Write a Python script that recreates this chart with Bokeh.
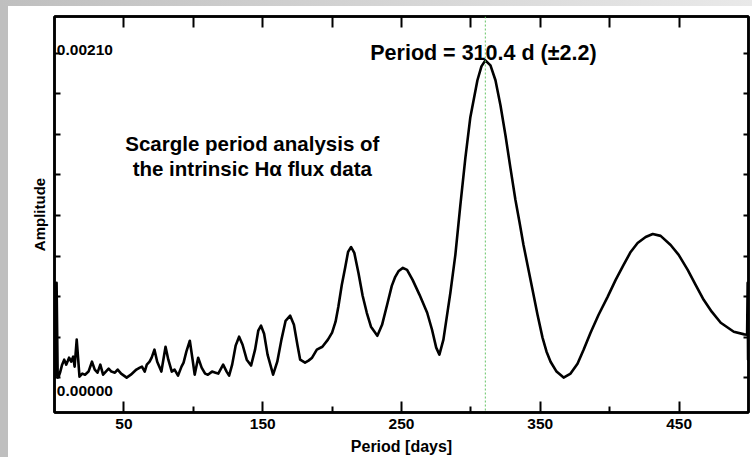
from bokeh.plotting import figure
from bokeh.models import Range1d, FixedTicker, LinearAxis, Span, Label, Spacer
from bokeh.layouts import column, row
from bokeh.embed import file_html
from bokeh.resources import INLINE

# ---- data ----
period_days = [
    0, 0.8, 1.5, 2.3, 3, 4, 5.5, 7, 8.5, 10.5, 12, 13.5, 14.5, 16, 18, 20, 22, 24.5, 27, 29,
    31, 33, 35, 37, 39, 41, 43.5, 45.5, 48, 52, 55, 59, 61.5, 63, 65, 66.5, 68.5, 70, 72, 74,
    77, 80, 82, 84.5, 86.5, 89, 91.5, 93, 95, 97.5, 99.5, 101, 103.5, 106, 108.5, 110.5, 113.5,
    116, 118, 121.5, 124, 125.8, 128, 130.5, 133, 135.5, 138.5, 141.6, 144.5, 146.8, 148.8,
    151, 153.5, 157.5, 160.5, 163.5, 166.5, 169.8, 172.5, 175, 177, 180.5, 183, 185.6, 189,
    193, 197, 200, 202.5, 204.5, 207, 209.5, 211.5, 213.7, 216, 219, 222, 225, 228, 232.6,
    236, 240, 243, 245.5, 248, 251, 254, 258, 263, 268.5, 272, 275, 277.3, 280.2, 285.2,
    288.8, 292.4, 296, 299.6, 304.7, 307.6, 310.4, 314.1, 317.7, 321.3, 324.9, 328.5, 332.1,
    335, 337.9, 340.8, 344.4, 348, 351.6, 354.5, 357.4, 361.7, 366.8, 371.8, 376.8, 381.2,
    386.2, 392, 398.5, 404.3, 410, 415.1, 420.1, 425.9, 431, 436.7, 443.9, 449.7, 456.2,
    461.9, 467.7, 473.5, 480, 489.4, 497, 499.0, 499.4, 499.7, 500,
]
amplitude = [
    0.000620, 0.000013, 0.000614, 0.000000, 0.0000065, 0.000032, 0.000084, 0.000116, 0.000084,
    0.000129, 0.000103, 0.000136, 0.000071, 0.000246, 0.0000065, 0.000026, 0.000019, 0.000039,
    0.000103, 0.000052, 0.000032, 0.000084, 0.000019, 0.000039, 0.000058, 0.000039, 0.000032,
    0.000052, 0.000026, 0.000000, 0.000019, 0.000052, 0.000065, 0.000071, 0.000039, 0.000084,
    0.000103, 0.000129, 0.000181, 0.000103, 0.000039, 0.000200, 0.000116, 0.000039, 0.000052,
    0.000013, 0.000071, 0.000097, 0.000168, 0.000239, 0.000116, 0.000019, 0.000129, 0.000065,
    0.000026, 0.000019, 0.000039, 0.000032, 0.000026, 0.000084, 0.000039, 0.000013, 0.000084,
    0.000207, 0.000265, 0.000213, 0.000116, 0.000078, 0.000181, 0.000304, 0.000336, 0.000284,
    0.000149, 0.000019, 0.000103, 0.000246, 0.000368, 0.000401, 0.000342, 0.000213, 0.000116,
    0.000097, 0.000110, 0.000129, 0.000181, 0.000200, 0.000246, 0.000291, 0.000362, 0.000459,
    0.000601, 0.000717, 0.000814, 0.000846, 0.000808, 0.000678, 0.000530, 0.000420, 0.000330,
    0.000271, 0.000342, 0.000485, 0.000594, 0.000653, 0.000691, 0.000711, 0.000698, 0.000633,
    0.000536, 0.000420, 0.000310, 0.000194, 0.000149, 0.000246, 0.000549, 0.000795, 0.001118,
    0.001422, 0.001687, 0.001926, 0.002016, 0.002055, 0.002022, 0.001926, 0.001764, 0.001570,
    0.001357, 0.001150, 0.001008, 0.000859, 0.000730, 0.000569, 0.000407, 0.000259, 0.000168,
    0.000103, 0.000039, 0.000000, 0.000026, 0.000090, 0.000181, 0.000291, 0.000407, 0.000523,
    0.000633, 0.000730, 0.000814, 0.000872, 0.000911, 0.000930, 0.000918, 0.000859, 0.000795,
    0.000698, 0.000601, 0.000504, 0.000427, 0.000355, 0.000297, 0.000280, 0.000278, 0.000614,
    0.000116, 0.000278,
]

x_labeled_ticks = [50, 150, 250, 350, 450]
x_minor_ticks = [100, 200, 300, 400]
x_all_ticks = [50, 100, 150, 200, 250, 300, 350, 400, 450]
y_ticks = [0.0, 0.0002625, 0.000525, 0.0007875, 0.00105, 0.0013125, 0.001575, 0.0018375, 0.0021]
y_tick_texts = ["0.00210", "0.00000"]
y_tick_text_values = [0.0021, 0.0]

best_period = 310.4
best_period_err = 2.2

FONT = "Liberation Sans"

p = figure(width=744, height=451, output_backend="svg", toolbar_location=None,
           x_range=Range1d(0, 500), y_range=Range1d(-0.000226, 0.002339),
           x_axis_location=None, y_axis_location=None,
           min_border_left=46, min_border_right=4, min_border_top=10, min_border_bottom=44)
p.background_fill_color = "white"
p.border_fill_color = "white"
p.outline_line_color = "black"
p.outline_line_width = 2.5
p.xgrid.visible = False
p.ygrid.visible = False


def style_axis(ax, major_in, minor_in):
    ax.axis_line_color = "black"
    ax.axis_line_width = 2.5
    ax.major_tick_line_color = "black"
    ax.major_tick_line_width = 2
    ax.minor_tick_line_color = "black"
    ax.minor_tick_line_width = 2
    ax.major_tick_out = 0
    ax.major_tick_in = major_in
    ax.minor_tick_out = 0
    ax.minor_tick_in = minor_in


# bottom axis (labelled)
xb = LinearAxis(ticker=FixedTicker(ticks=x_labeled_ticks, minor_ticks=x_minor_ticks))
style_axis(xb, 11, 6)
xb.major_label_text_font = FONT
xb.major_label_text_font_style = "bold"
xb.major_label_text_font_size = "15.5px"
xb.major_label_text_color = "black"
xb.major_label_standoff = 6
xb.axis_label = "Period [days]"
xb.axis_label_text_font = FONT
xb.axis_label_text_font_style = "bold"
xb.axis_label_text_font_size = "16px"
xb.axis_label_text_color = "black"
xb.axis_label_standoff = 6
p.add_layout(xb, "below")

# top axis: ticks only
xt = LinearAxis(ticker=FixedTicker(ticks=[], minor_ticks=x_all_ticks))
style_axis(xt, 11, 11)
p.add_layout(xt, "above")

# left axis: ticks only + axis title
yl = LinearAxis(ticker=FixedTicker(ticks=[], minor_ticks=y_ticks))
style_axis(yl, 6, 6)
yl.axis_label = "Amplitude"
yl.axis_label_text_font = FONT
yl.axis_label_text_font_style = "bold"
yl.axis_label_text_font_size = "15px"
yl.axis_label_text_color = "black"
yl.axis_label_standoff = 7
p.add_layout(yl, "left")

# right axis: ticks only
yr = LinearAxis(ticker=FixedTicker(ticks=[], minor_ticks=y_ticks))
style_axis(yr, 5, 5)
p.add_layout(yr, "right")

# periodogram curve
p.line(period_days, amplitude, line_color="black", line_width=2.6, line_join="round")

# best period marker
p.add_layout(Span(location=best_period, dimension="height", line_color="#66c466",
                  line_width=1, line_dash="2 2"))

# in-plot amplitude labels
for txt, val in zip(y_tick_texts, y_tick_text_values):
    yoff = 0.000019 if val > 0 else -0.000084
    p.add_layout(Label(x=1.7, y=val + yoff, text=txt, text_font=FONT, text_font_style="bold",
                       text_font_size="15.5px", text_color="black",
                       text_align="left", text_baseline="alphabetic"))

p.add_layout(Label(x=309, y=0.0021,
                   text="Period = %.1f d (\u00b1%.1f)" % (best_period, best_period_err),
                   text_font=FONT, text_font_style="bold", text_font_size="21.5px",
                   text_color="black", text_align="center", text_baseline="alphabetic"))

p.add_layout(Label(x=142.5, y=0.001518, text="Scargle period analysis of",
                   text_font=FONT, text_font_style="bold", text_font_size="20.5px",
                   text_color="black", text_align="center", text_baseline="alphabetic"))
p.add_layout(Label(x=142.5, y=0.001357, text="the intrinsic H\u03b1 flux data",
                   text_font=FONT, text_font_style="bold", text_font_size="20.5px",
                   text_color="black", text_align="center", text_baseline="alphabetic"))

# grey page frame: top strip (lighter to the right) and left strip
top_strip = Spacer(width=752, height=6,
                   styles={"background-color": "#d2d2d2",
                           "background-image": "linear-gradient(to right, #bfbfbf, #e9e9e9)"})
left_strip = Spacer(width=8, height=451, styles={"background-color": "#bfbfbf"})
layout = column(top_strip, row(left_strip, p, spacing=0), spacing=0)

open("out.html", "w").write(file_html(layout, INLINE))
